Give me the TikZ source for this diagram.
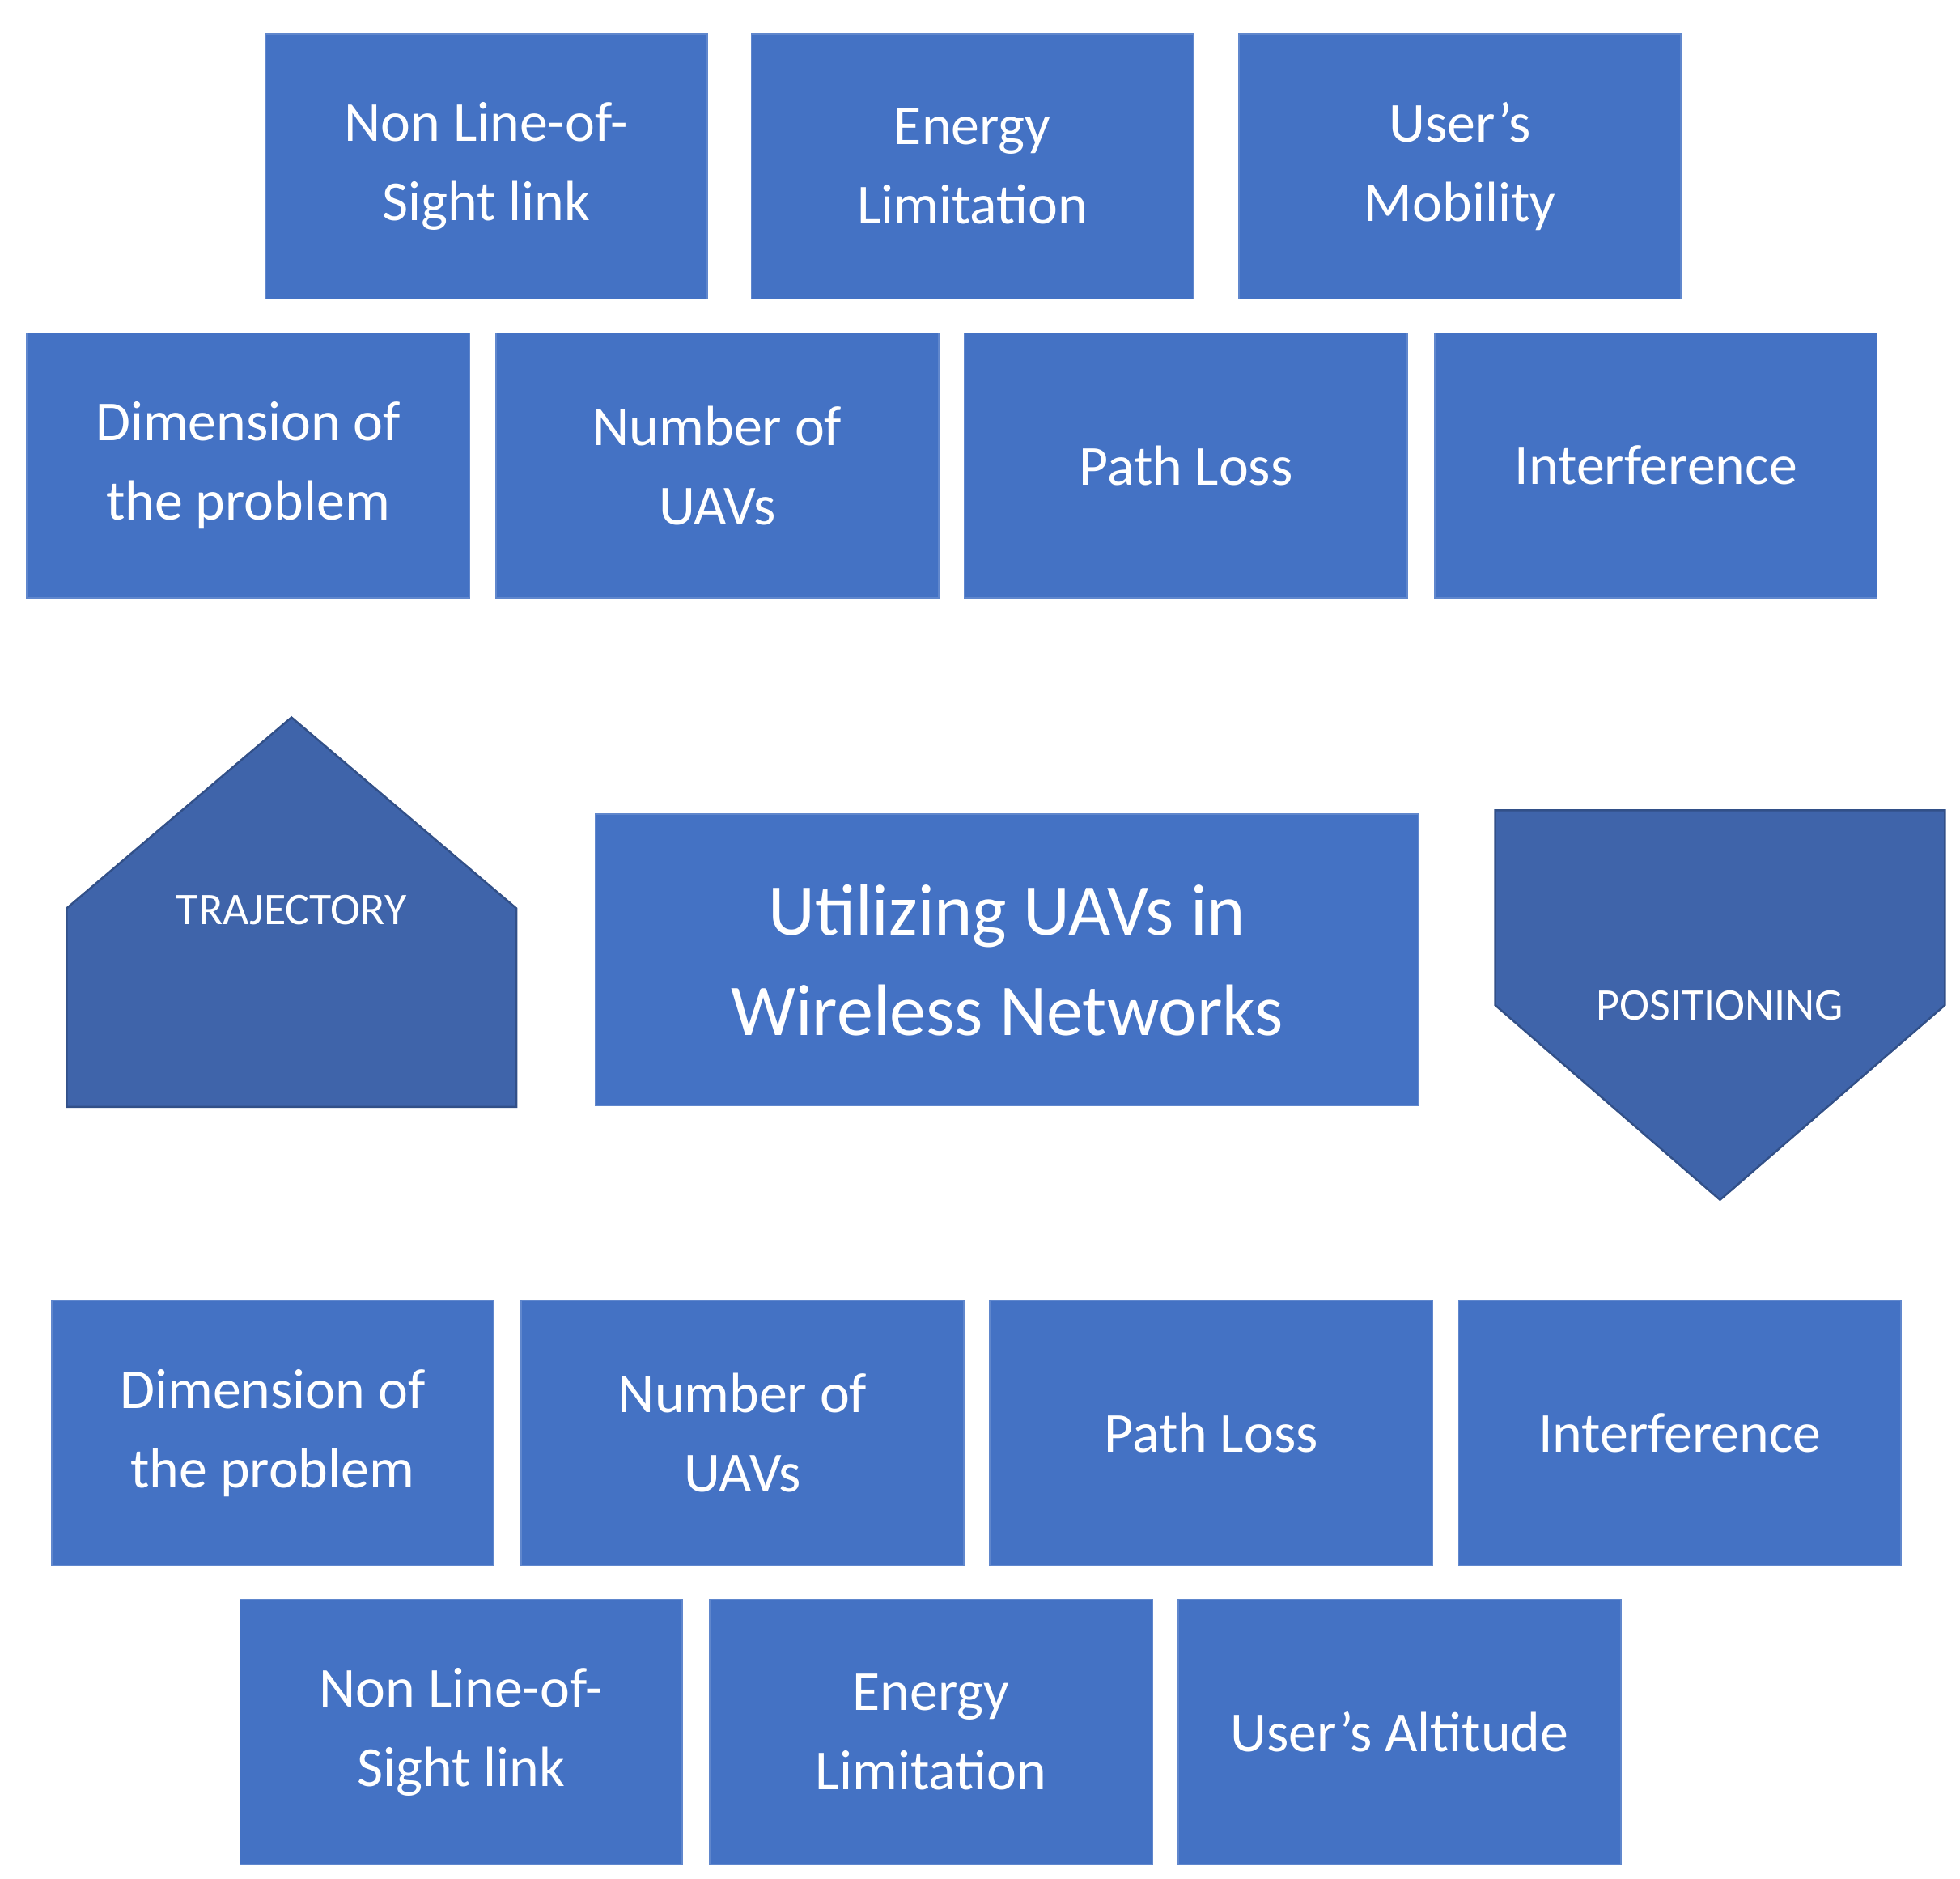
\documentclass[tikz,border=0pt]{standalone}
\usepackage{fontspec}
\setmainfont{Carlito}
\begin{document}
\begin{tikzpicture}[x=0.5pt,y=-0.5pt,
 box/.style={fill=boxc,draw=boxc!85!white,line width=0.6pt,minimum width=176pt,minimum height=105.5pt,inner sep=0pt,align=center,text=white,font=\fontsize{22.5}{31.5}\selectfont},
 arr/.style={fill=arrc,draw=arrc!80!black,line width=0.8pt}]
\definecolor{boxc}{HTML}{4472C4}
\definecolor{arrc}{HTML}{3F64AA}
\useasboundingbox (0,0) rectangle (1560,1495);
% row 1
\node[box] (r1a) at (387,132.5) {Non Line-of-\\Sight link};
\node[box] (r1b) at (774,132.5) {Energy\\Limitation};
\node[box] (r1c) at (1162,132.5) {User’s\\Mobility};
% row 2
\node[box] (r2a) at (197.5,370.5) {Dimension of\\the problem};
\node[box] (r2b) at (571,370.5) {Number of\\UAVs};
\node[box] (r2c) at (944,370.5) {Path Loss};
\node[box] (r2d) at (1318,370.5) {Interference};
% trajectory
\draw[arr] (232,571) -- (411,723) -- (411,881) -- (53,881) -- (53,723) -- cycle;
\node[text=white,font=\fontsize{18}{22}\selectfont] (traj) at (232,724) {TRAJECTORY};
% center
\node[box,minimum width=327.5pt,minimum height=116pt,font=\fontsize{29}{40}\selectfont] (main) at (801.5,764) {Utilizing UAVs in\\Wireless Networks};
% positioning
\draw[arr] (1190,645) -- (1548,645) -- (1548,800) -- (1369,955) -- (1190,800) -- cycle;
\node[text=white,font=\fontsize{18}{22}\selectfont] (pos) at (1369,800) {POSITIONING};
% row 3
\node[box] (r3a) at (217,1140.5) {Dimension of\\the problem};
\node[box] (r3b) at (591,1140.5) {Number of\\UAVs};
\node[box] (r3c) at (964,1140.5) {Path Loss};
\node[box] (r3d) at (1337,1140.5) {Interference};
% row 4
\node[box] (r4a) at (367,1378.5) {Non Line-of-\\Sight link};
\node[box] (r4b) at (741,1378.5) {Energy\\Limitation};
\node[box] (r4c) at (1114,1378.5) {User’s Altitude};
\end{tikzpicture}
\end{document}
